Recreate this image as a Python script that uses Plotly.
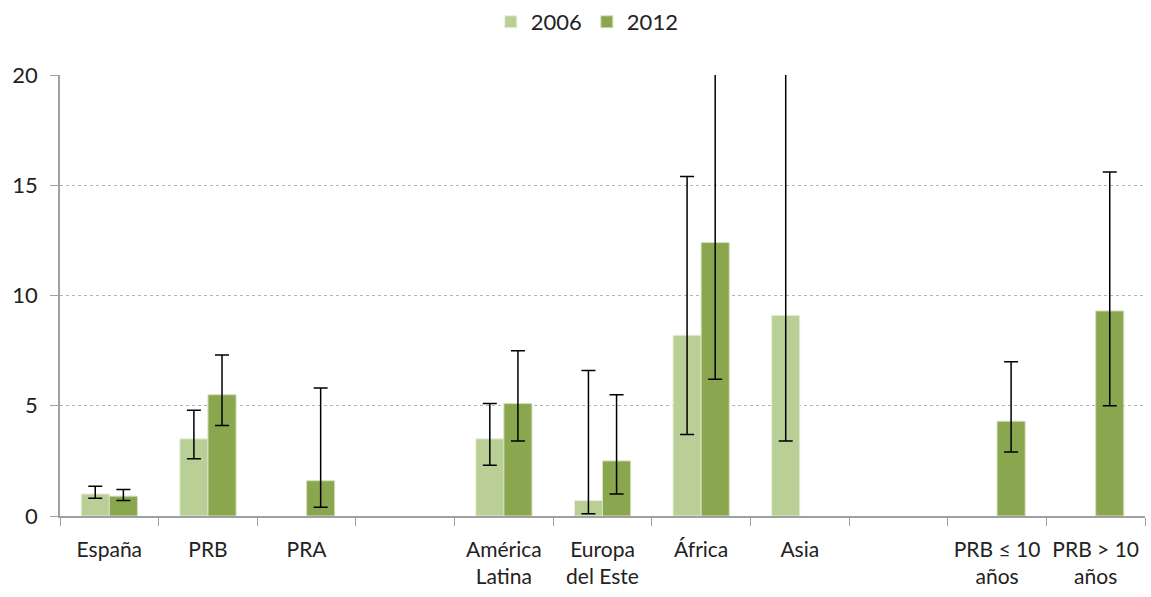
import plotly.graph_objects as go

# Categories (two blank spacer slots separate the groups)
categories = ["España", "PRB", "PRA", " ", "América<br>Latina", "Europa<br>del Este",
              "África", "Asia", "  ", "PRB ≤ 10<br>años", "PRB > 10<br>años"]

# Point estimates
values_2006 = [1.0, 3.5, None, None, 3.5, 0.7, 8.2, 9.1, None, None, None]
values_2012 = [0.9, 5.5, 1.6, None, 5.1, 2.5, 12.4, None, None, 4.3, 9.3]

# Confidence interval bounds
upper_2006 = [1.35, 4.8, None, None, 5.1, 6.6, 15.4, 30.0, None, None, None]
lower_2006 = [0.8, 2.6, None, None, 2.3, 0.1, 3.7, 3.4, None, None, None]
upper_2012 = [1.2, 7.3, 5.8, None, 7.5, 5.5, 24.6, None, None, 7.0, 15.6]
lower_2012 = [0.7, 4.1, 0.4, None, 3.4, 1.0, 6.2, None, None, 2.9, 5.0]


def err_plus(vals, ups):
    return [None if v is None or u is None else u - v for v, u in zip(vals, ups)]


def err_minus(vals, lows):
    return [None if v is None or l is None else v - l for v, l in zip(vals, lows)]


err_style = dict(type="data", symmetric=False, color="black", thickness=1.5, width=7)

fig = go.Figure()
fig.add_trace(go.Bar(
    x=categories, y=values_2006, name="2006",
    marker=dict(color="#BACF96", line=dict(color="#E8EFDA", width=1)),
    error_y=dict(array=err_plus(values_2006, upper_2006),
                 arrayminus=err_minus(values_2006, lower_2006), **err_style),
))
fig.add_trace(go.Bar(
    x=categories, y=values_2012, name="2012",
    marker=dict(color="#8AA64F", line=dict(color="#D5E0BE", width=1)),
    error_y=dict(array=err_plus(values_2012, upper_2012),
                 arrayminus=err_minus(values_2012, lower_2012), **err_style),
))

font_family = "Lato, 'Open Sans', sans-serif"

fig.update_layout(
    width=1151, height=597,
    margin=dict(l=60, r=6, t=75, b=81, autoexpand=False),
    paper_bgcolor="white", plot_bgcolor="white",
    barmode="group", bargap=0.43, bargroupgap=0,
    font=dict(family=font_family, size=22, color="#222222"),
    showlegend=True,
    legend=dict(orientation="h", x=0.486, xanchor="center",
                yref="container", y=1 - 22 / 597, yanchor="middle",
                font=dict(size=22), itemwidth=30, traceorder="normal"),
)
fig.update_xaxes(
    type="category", tickson="boundaries", ticks="outside", ticklen=8,
    tickcolor="#A0A0A0", showline=True, linecolor="#A0A0A0", linewidth=1.5,
    showgrid=False, tickfont=dict(size=21), ticklabelstandoff=14,
    tickangle=0, automargin=False,
)
fig.update_yaxes(
    range=[0, 20], tickvals=[0, 5, 10, 15, 20], ticks="outside", ticklen=8,
    tickcolor="#A0A0A0", showline=True, linecolor="#A0A0A0", linewidth=1.5,
    showgrid=True, gridcolor="#B5B5B5", griddash="dot", gridwidth=1,
    zeroline=False, tickfont=dict(size=22), ticklabelstandoff=8, automargin=False,
)

fig.write_html("out.html")
